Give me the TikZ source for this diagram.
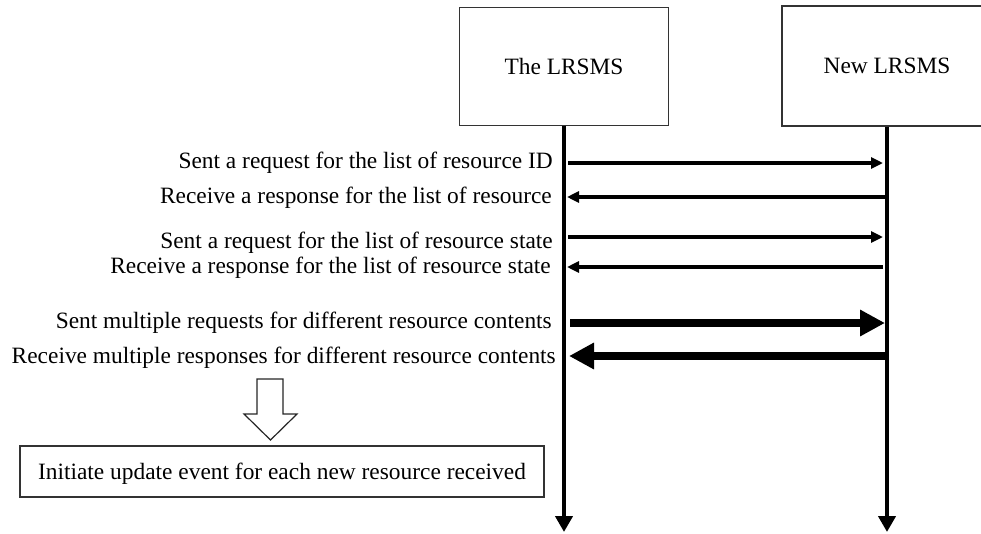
\documentclass[tikz,border=0pt]{standalone}
\usepackage{fontspec}
\setmainfont{Liberation Serif}
\usetikzlibrary{arrows.meta}
\begin{document}
\begin{tikzpicture}[x=1pt,y=-1pt,
  lbl/.style={font=\fontsize{23.4}{28}\selectfont, inner sep=0pt},
  actor/.style={lbl, draw=black!80, line width=1.3pt},
  life/.style={line width=4.6pt, -{Triangle[length=16pt,width=17pt]}},
  msg/.style={line width=3.3pt, -{Triangle[length=12pt,width=11pt]}},
  bulk/.style={line width=8pt, -{Triangle[length=25pt,width=25pt]}},
  hollow/.style={draw=black!85, line width=1.2pt, line join=miter, fill=white}
  ]
\useasboundingbox (0,0) rectangle (981,533);
\clip (0,0) rectangle (981,533);

% participants
\node[actor, minimum width=209.5pt, minimum height=118pt] (lr) at (564,66.5) {The LRSMS};
\node[actor, minimum width=210pt, minimum height=120pt] (nl) at (887,66) {New LRSMS};

% lifelines
\coordinate (lrEnd) at (564,532);
\coordinate (nlEnd) at (887,532);
\draw[life] (lr.south) -- (lrEnd);
\draw[life] (nl.south) -- (nlEnd);

% message end points
\coordinate (m1a) at (568,163);   \coordinate (m1b) at (883,163);
\coordinate (m2a) at (885,197);   \coordinate (m2b) at (567,197);
\coordinate (m3a) at (568,237);   \coordinate (m3b) at (883,237);
\coordinate (m4a) at (883,267);   \coordinate (m4b) at (567,267);
\coordinate (m5a) at (570,323);   \coordinate (m5b) at (885,323);
\coordinate (m6a) at (887,356);   \coordinate (m6b) at (569,356);

\draw[msg]  (m1a) -- (m1b);
\draw[msg]  (m2a) -- (m2b);
\draw[msg]  (m3a) -- (m3b);
\draw[msg]  (m4a) -- (m4b);
\draw[bulk] (m5a) -- (m5b);
\draw[bulk] (m6a) -- (m6b);

% message labels
\node[lbl, anchor=base east] (t1) at (553,168) {Sent a request for the list of resource ID};
\node[lbl, anchor=base east] (t2) at (552,203) {Receive a response for the list of resource};
\node[lbl, anchor=base east] (t3) at (553,248) {Sent a request for the list of resource state};
\node[lbl, anchor=base east] (t4) at (551,273) {Receive a response for the list of resource state};
\node[lbl, anchor=base east] (t5) at (552,328) {Sent multiple requests for different resource contents};
\node[lbl, anchor=base east] (t6) at (556,363) {Receive multiple responses for different resource contents};

% block arrow towards the follow-up step
\draw[hollow] (257,379) -- (283,379) -- (283,414) -- (297,414) -- (270.5,440)
  -- (244,414) -- (257,414) -- cycle;

% follow-up step
\node[actor, minimum width=524pt, minimum height=51pt, text depth=0pt] (upd) at (282,471.5)
  {Initiate update event for each new resource received};
\end{tikzpicture}
\end{document}
